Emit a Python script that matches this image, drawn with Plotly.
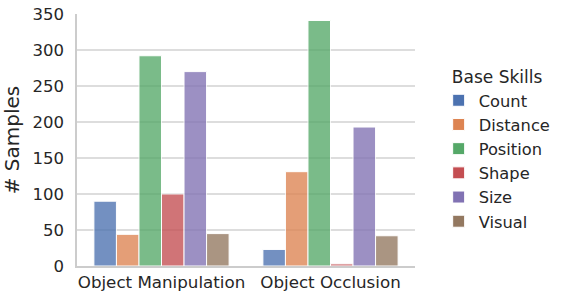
import plotly.graph_objects as go

categories = ["Object Manipulation", "Object Occlusion"]
skills = ["Count", "Distance", "Position", "Shape", "Size", "Visual"]
values = {
    "Count": [90, 23],
    "Distance": [44, 131],
    "Position": [292, 341],
    "Shape": [100, 3],
    "Size": [270, 193],
    "Visual": [45, 42],
}
colors = ["#4c72b0", "#dd8452", "#55a868", "#c44e52", "#8172b3", "#937860"]
yticks = [0, 50, 100, 150, 200, 250, 300, 350]

fig = go.Figure()
for s, c in zip(skills, colors):
    fig.add_trace(go.Bar(
        x=categories, y=values[s], name=s,
        marker=dict(color=c, opacity=0.78, line=dict(color="white", width=1)),
    ))

fig.update_layout(
    width=568, height=295,
    margin=dict(l=77, r=147, t=14, b=29),
    paper_bgcolor="white", plot_bgcolor="white",
    barmode="group", bargap=0.2, bargroupgap=0,
    font=dict(family="DejaVu Sans", size=16.5, color="#262626"),
    legend=dict(
        title=dict(text="Base Skills", side="top center", font=dict(size=17)),
        font=dict(size=16.3), x=1.07, xanchor="left", y=0.46, yanchor="middle",
        bgcolor="rgba(0,0,0,0)", itemwidth=30,
    ),
    xaxis=dict(showgrid=False, showline=True, linecolor="#cccccc", linewidth=1.5,
               ticks="", range=[-0.5, 1.5], tickfont=dict(size=16.7), automargin=False),
    yaxis=dict(title=dict(text="# Samples", standoff=9), range=[0, 350],
               tickvals=yticks, showgrid=True, gridcolor="#dddddd", gridwidth=1.5,
               showline=True, linecolor="#cccccc", linewidth=1.5, automargin=False,
               zeroline=False, ticks="", ticklabelstandoff=8, tickfont=dict(size=16.5)),
)
fig.write_html("out.html", config={"displayModeBar": False},
               post_script="document.body.style.margin='0';")
